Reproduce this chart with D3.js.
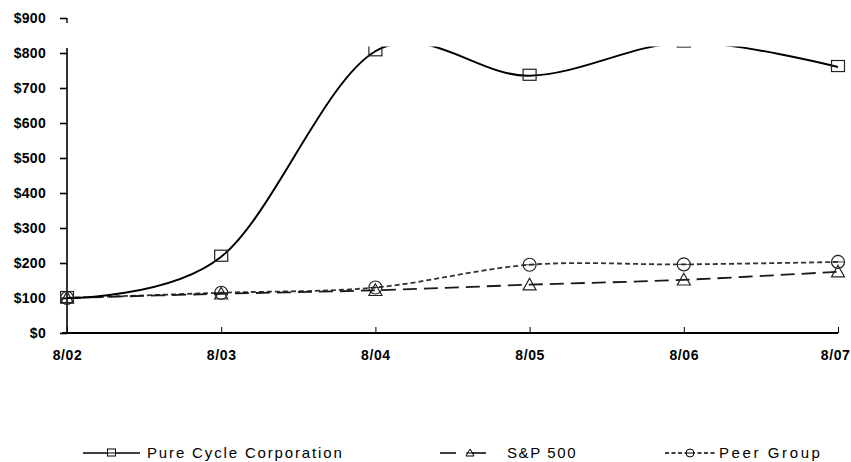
<!DOCTYPE html>
<html>
<head>
<meta charset="utf-8">
<script src="https://cdn.jsdelivr.net/npm/d3@7"></script>
<style>
  body { margin: 0; background: #fff; }
  svg { display: block; }
</style>
</head>
<body>
<script>
const periods = ['8/02', '8/03', '8/04', '8/05', '8/06', '8/07']
const pureCycle = [100, 218, 805, 735, 830, 760]
const sp500 = [100, 112, 122, 138, 152, 175]
const peerGroup = [100, 115, 130, 195, 196, 203]
const yTicks = [0, 100, 200, 300, 400, 500, 600, 700, 800, 900]

const w = 851
const h = 462

const svg = d3.select('body')
    .append('svg')
    .attr('width', w)
    .attr('height', h)
    .style('font-family', '"Liberation Sans", Arial, sans-serif')

const xScale = d3.scalePoint()
    .domain(periods)
    .range([67, 838])

const yScale = d3.scaleLinear()
    .domain([0, 900])
    .range([333, 18])

// plot area clip (the top of the chart cuts the pure cycle curve)
svg.append('clipPath')
    .attr('id', 'plot')
    .append('rect')
    .attr('x', 60)
    .attr('y', 46.5)
    .attr('width', 800)
    .attr('height', 300)

// y axis
const yAxis = svg.append('g')
    .attr('transform', `translate(${xScale(periods[0])},0)`)
    .call(d3.axisLeft(yScale).tickValues(yTicks).tickSize(7).tickSizeOuter(0).tickFormat(d => '$' + d))
yAxis.select('.domain').remove()
yAxis.selectAll('line').attr('stroke', '#000').attr('stroke-width', 1.6)
yAxis.selectAll('text')
    .attr('x', -21)
    .attr('font-size', 14)
    .attr('font-weight', 'bold')
    .attr('letter-spacing', 0.3)
    .attr('fill', '#000')
yAxis.append('line')
    .attr('x1', 0).attr('x2', 0)
    .attr('y1', yScale(0)).attr('y2', yScale(814))
    .attr('stroke', '#000').attr('stroke-width', 1.6)
// little stub under the $900 tick
yAxis.append('line')
    .attr('x1', 0).attr('x2', 0)
    .attr('y1', yScale(900)).attr('y2', yScale(886))
    .attr('stroke', '#000').attr('stroke-width', 1.4)

// x axis
const xAxis = svg.append('g')
    .attr('transform', `translate(0,${yScale(0)})`)
    .call(d3.axisBottom(xScale).tickSize(-6).tickSizeOuter(0).tickPadding(17))
xAxis.select('.domain').remove()
xAxis.selectAll('line').attr('stroke', '#000').attr('stroke-width', 1)
xAxis.selectAll('text')
    .attr('font-size', 14)
    .attr('font-weight', 'bold')
    .attr('letter-spacing', 0.6)
    .attr('fill', '#000')
// last label sits against the right edge
xAxis.selectAll('text')
    .filter(d => d === periods[periods.length - 1])
    .attr('text-anchor', 'end')
    .attr('x', w - 1 - xScale(periods[periods.length - 1]))
xAxis.append('line')
    .attr('x1', xScale(periods[0]) - 5).attr('x2', xScale(periods[periods.length - 1]))
    .attr('y1', 0).attr('y2', 0)
    .attr('stroke', '#000').attr('stroke-width', 2.2)

const series = [
    { name: 'Pure Cycle Corporation', values: pureCycle, color: '#000', dash: null, width: 2, marker: 'square' },
    { name: 'S&P 500', values: sp500, color: '#1a1a1a', dash: '14,7', width: 1.8, marker: 'triangle' },
    { name: 'Peer Group', values: peerGroup, color: '#333', dash: '5,3', width: 1.8, marker: 'circle' }
]

const line = d3.line()
    .x((d, i) => xScale(periods[i]))
    .y(d => yScale(d))
    .curve(d3.curveCardinal.tension(0))

const plot = svg.append('g').attr('clip-path', 'url(#plot)')

function drawMarker(g, type, size, color, sw) {
    if (type === 'square') {
        g.append('rect')
            .attr('x', -size / 2).attr('y', -size / 2)
            .attr('width', size).attr('height', size * 0.85)
            .attr('fill', 'none').attr('stroke', color).attr('stroke-width', sw)
    } else if (type === 'triangle') {
        const s = size / 2
        g.append('path')
            .attr('d', `M0,${-s}L${s},${s * 0.8}L${-s},${s * 0.8}Z`)
            .attr('fill', 'none').attr('stroke', color).attr('stroke-width', sw)
    } else {
        g.append('circle')
            .attr('r', size / 2)
            .attr('fill', 'none').attr('stroke', color).attr('stroke-width', sw)
        g.append('line')
            .attr('x1', -size / 2).attr('x2', size / 2)
            .attr('stroke', color).attr('stroke-width', sw * 0.7)
    }
}

series.slice().reverse().forEach(s => {
    plot.append('path')
        .datum(s.values)
        .attr('d', line)
        .attr('fill', 'none')
        .attr('stroke', s.color)
        .attr('stroke-width', s.width)
        .attr('stroke-dasharray', s.dash)

    plot.selectAll(null)
        .data(s.values)
        .enter()
        .append('g')
        .attr('transform', (d, i) => `translate(${xScale(periods[i])},${yScale(d)})`)
        .each(function () { drawMarker(d3.select(this), s.marker, 13, '#222', 1.2) })
})

// legend
const legendX = [83, 440, 665]
const legendLen = [57, 60, 50]
const legendSpacing = [1.85, 1.6, 2.6]
const legend = svg.append('g')
    .attr('transform', 'translate(0,453)')

series.forEach((s, i) => {
    const g = legend.append('g').attr('transform', `translate(${legendX[i]},0)`)
    const len = legendLen[i]
    g.append('line')
        .attr('x1', 0).attr('x2', len)
        .attr('stroke', '#000')
        .attr('stroke-width', 1.6)
        .attr('stroke-dasharray', i === 1 ? '16,14' : (i === 2 ? '4,2.5' : null))
    const m = g.append('g').attr('transform', `translate(${len / 2},0)`)
    if (i === 0) {
        m.append('rect').attr('x', -4).attr('y', -4).attr('width', 8).attr('height', 7)
            .attr('fill', '#fff').attr('stroke', '#000').attr('stroke-width', 1)
        m.append('line').attr('x1', -4).attr('x2', 4).attr('stroke', '#000').attr('stroke-width', 1)
    } else if (i === 1) {
        m.append('path').attr('d', 'M0,-4L4,3L-4,3Z')
            .attr('fill', '#fff').attr('stroke', '#000').attr('stroke-width', 1)
        m.append('line').attr('x1', -4).attr('x2', 4).attr('stroke', '#000').attr('stroke-width', 1)
    } else {
        m.append('circle').attr('r', 4)
            .attr('fill', '#fff').attr('stroke', '#000').attr('stroke-width', 1)
        m.append('line').attr('x1', -4).attr('x2', 4).attr('stroke', '#000').attr('stroke-width', 1)
    }
    g.append('text')
        .attr('x', len + (i === 2 ? 4 : 7))
        .attr('dy', '0.36em')
        .attr('font-size', 15)
        .attr('letter-spacing', legendSpacing[i])
        .attr('fill', '#000')
        .text(s.name)
})
</script>
</body>
</html>
